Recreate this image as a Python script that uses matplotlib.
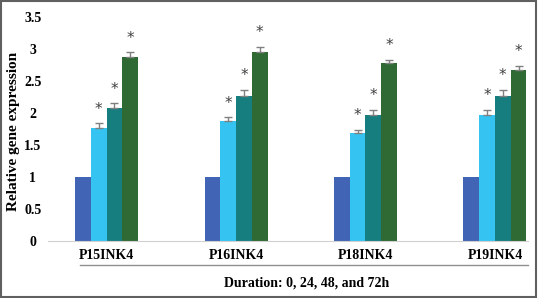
import numpy as np
import matplotlib.pyplot as plt
from matplotlib.patches import Rectangle

# Relative gene expression at 0, 24, 48 and 72h
genes = ['P15INK4', 'P16INK4', 'P18INK4', 'P19INK4']
h0 = [1.0, 1.0, 1.0, 1.0]
h24 = [1.77, 1.87, 1.68, 1.97]
h48 = [2.08, 2.27, 1.97, 2.27]
h72 = [2.87, 2.96, 2.78, 2.67]
err0 = [0.0, 0.0, 0.0, 0.0]
err24 = [0.07, 0.06, 0.06, 0.08]
err48 = [0.07, 0.09, 0.08, 0.09]
err72 = [0.08, 0.07, 0.05, 0.07]
yticks = [0, 0.5, 1, 1.5, 2, 2.5, 3, 3.5]

colors = ['#4264b4', '#35c4f2', '#177e80', '#2f6934']

plt.rcParams['font.family'] = ['Liberation Serif', 'DejaVu Serif']

fig = plt.figure(figsize=(5.38, 2.98), dpi=100)
ax = fig.add_axes([48 / 538, 57 / 298, 480 / 538, 224 / 298])

x = np.arange(len(genes))
w = 0.1216
series = [(h0, err0), (h24, err24), (h48, err48), (h72, err72)]
for i, (vals, errs) in enumerate(series):
    pos = x + (i - 1.5) * w
    ax.bar(pos, vals, width=w, color=colors[i], zorder=2)
    if i > 0:
        ax.errorbar(pos, vals, yerr=[np.zeros(len(errs)), errs], fmt='none',
                    ecolor='#808080', elinewidth=1, capsize=3, capthick=1, zorder=3)
        for px, v, e in zip(pos, vals, errs):
            ax.text(px, v + e + 0.22, '*', ha='center', va='center',
                    fontsize=11, color='#404040', family='DejaVu Sans')

ax.set_xlim(-0.452, 3.255)
ax.set_ylim(0, 3.5)
ax.set_yticks(yticks)
ax.set_yticklabels(['0', '0.5', '1', '1.5', '2', '2.5', '3', '3.5'],
                   fontsize=10, fontweight='bold')
for lab in ax.get_yticklabels():
    lab.set_ha('center')
ax.tick_params(axis='y', length=0, pad=11)
ax.set_xticks(x)
ax.set_xticklabels(genes, fontsize=10, fontweight='bold')
ax.tick_params(axis='x', length=0, pad=6)
for s in ['top', 'right', 'left']:
    ax.spines[s].set_visible(False)
ax.spines['bottom'].set_color('#d0d0d0')

# line under the category labels
fig.add_artist(plt.Line2D([80 / 538, 528 / 538], [1 - 265 / 298] * 2,
                          color='#909090', lw=1))

fig.text(14 / 538, 1 - 131 / 298, 'Relative gene expression', rotation=90,
         ha='center', va='center', fontsize=11, fontweight='bold')
fig.text(307 / 538, 1 - 283 / 298, 'Duration: 0, 24, 48, and 72h',
         ha='center', va='center', fontsize=10, fontweight='bold')

# outer frame
fig.add_artist(Rectangle((0.002, 0.004), 0.995, 0.993, transform=fig.transFigure,
                         fill=False, edgecolor='#606060', lw=1.5))

fig.savefig('out.png', dpi=100)
